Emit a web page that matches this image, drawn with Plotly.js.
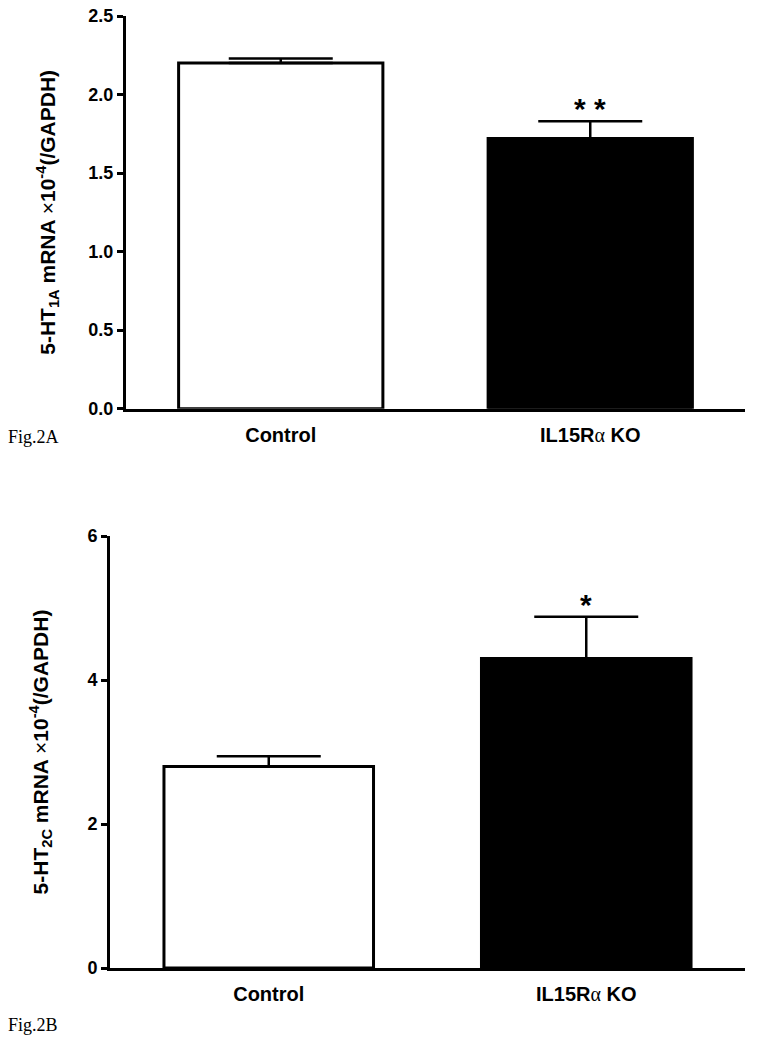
<!DOCTYPE html>
<html><head><meta charset="utf-8">
<script src="https://cdn.plot.ly/plotly-3.0.1.min.js"></script>
<style>body{margin:0;background:#fff}#c{width:761px;height:1050px}</style>
</head><body><div id="c"></div>
<script>
const categories = ["Control", "IL15R<span style='font-family:Liberation Serif;font-weight:normal'>α</span> KO"];
const valuesA = [2.2, 1.72];
const errorsA = [0.03, 0.11];
const signifA = ["", "* *"];
const valuesB = [2.8, 4.3];
const errorsB = [0.14, 0.58];
const signifB = ["", "*"];
const yTicksA = [0, 0.5, 1.0, 1.5, 2.0, 2.5];
const yTickTextA = ["0.0", "0.5", "1.0", "1.5", "2.0", "2.5"];
const yTicksB = [0, 2, 4, 6];
const fills = ["#ffffff", "#000000"];

const W = 761, H = 1050;
const bar = (vals, errs, xa, ya) => ({
  type: "bar", x: categories, y: vals, xaxis: xa, yaxis: ya, width: 0.66,
  marker: {color: fills, line: {color: "#000", width: 3}},
  error_y: {type: "data", array: errs, arrayminus: [0, 0], symmetric: false,
            color: "#000", thickness: 2.5, width: 52},
  hoverinfo: "skip", showlegend: false
});
const data = [bar(valuesA, errorsA, "x", "y"), bar(valuesB, errorsB, "x2", "y2")];

const fam = "Liberation Sans, Arial, sans-serif";
const tickFont = {family: fam, size: 18, color: "#000", weight: "bold"};
const catFont = {family: fam, size: 20, color: "#000", weight: "bold"};
const axBase = {showline: true, linecolor: "#000", linewidth: 3, showgrid: false, zeroline: false,
  ticks: "outside", ticklen: 6, tickwidth: 3, tickcolor: "#000", tickfont: tickFont, fixedrange: true};

const starFont = {family: fam, size: 30, color: "#000", weight: "bold"};
const ann = [];
categories.forEach((c, i) => {
  if (signifA[i]) ann.push({xref: "x", yref: "y", x: c, y: valuesA[i] + errorsA[i], text: signifA[i],
    showarrow: false, yanchor: "bottom", yshift: -6, font: starFont});
  if (signifB[i]) ann.push({xref: "x2", yref: "y2", x: c, y: valuesB[i] + errorsB[i], text: signifB[i],
    showarrow: false, yanchor: "bottom", yshift: -6, font: starFont});
});
const figFont = {family: "Liberation Serif, Times New Roman, serif", size: 18, color: "#000", weight: "normal"};
ann.push({xref: "paper", yref: "paper", x: 6 / W, y: 1 - 437 / H, text: "Fig.2A", showarrow: false,
  xanchor: "left", yanchor: "middle", font: figFont});
ann.push({xref: "paper", yref: "paper", x: 6 / W, y: 1 - 1025 / H, text: "Fig.2B", showarrow: false,
  xanchor: "left", yanchor: "middle", font: figFont});

const titleA = "5-HT<sub>1A</sub> mRNA <span style='font-weight:normal'>×</span>10<sup>-4</sup>(/GAPDH)";
const titleB = "5-HT<sub>2C</sub> mRNA <span style='font-weight:normal'>×</span>10<sup>-4</sup>(/GAPDH)";
const titleFont = {family: fam, size: 21, color: "#000", weight: "bold"};

const layout = {
  width: W, height: H, margin: {l: 0, r: 0, t: 0, b: 0}, paper_bgcolor: "#fff", plot_bgcolor: "#fff",
  font: {family: fam, color: "#000"}, showlegend: false,
  xaxis: Object.assign({}, axBase, {domain: [126 / W, 745 / W], anchor: "y", ticks: "", ticklen: 0,
    range: [-0.5, 1.5], type: "category", ticklabelstandoff: 6, tickfont: catFont}),
  yaxis: Object.assign({}, axBase, {domain: [1 - 408.7 / H, 1 - 16 / H], anchor: "x", range: [0, 2.5],
    tickvals: yTicksA, ticktext: yTickTextA,
    title: {text: titleA, font: titleFont, standoff: 28}}),
  xaxis2: Object.assign({}, axBase, {domain: [110 / W, 745 / W], anchor: "y2", ticks: "", ticklen: 0,
    range: [-0.5, 1.5], type: "category", ticklabelstandoff: 6, tickfont: catFont}),
  yaxis2: Object.assign({}, axBase, {domain: [1 - 968 / H, 1 - 536 / H], anchor: "x2", range: [0, 6],
    tickvals: yTicksB,
    title: {text: titleB, font: titleFont, standoff: 34}}),
  annotations: ann
};
Plotly.newPlot("c", data, layout, {staticPlot: true});
</script></body></html>
